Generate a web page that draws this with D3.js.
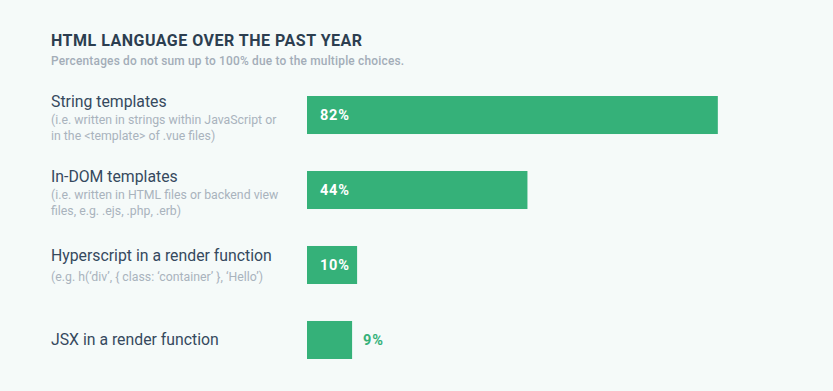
<!DOCTYPE html>
<html>
<head>
<meta charset="utf-8">
<script src="https://cdn.jsdelivr.net/npm/d3@7"></script>
<style>
  body { margin: 0; background: #f5faf9; }
  svg { display: block; font-family: Roboto, "Open Sans", sans-serif; }
</style>
</head>
<body>
<div id="chart"></div>
<script>
// datos del grafico
const categorias = ["String templates", "In-DOM templates", "Hyperscript in a render function", "JSX in a render function"];
const subtextos = [
    ["(i.e. written in strings within JavaScript or", "in the <template> of .vue files)"],
    ["(i.e. written in HTML files or backend view", "files, e.g. .ejs, .php, .erb)"],
    ["(e.g. h(\u2018div\u2019, { class: \u2018container\u2019 }, \u2018Hello\u2019)"],
    []
];
const porcentajes = [82, 44, 10, 9];

const width = 833, height = 391;
const verde = "#35b179";

const svg = d3.select("#chart")
  .append("svg")
    .attr("width", width)
    .attr("height", height);

svg.append("rect").attr("width", width).attr("height", height).attr("fill", "#f5faf9");

// Titulo y subtitulo
svg.append("text")
    .attr("x", 51).attr("y", 46)
    .attr("fill", "#2c3e50")
    .style("font-size", "16px").style("font-weight", "700")
    .style("letter-spacing", "0.5px")
    .text("HTML LANGUAGE OVER THE PAST YEAR");
svg.append("text")
    .attr("x", 51).attr("y", 65)
    .attr("fill", "#a3adb8")
    .style("font-size", "11.9px").style("font-weight", "500")
    .style("letter-spacing", "0.2px")
    .text("Percentages do not sum up to 100% due to the multiple choices.");

// Escalas
const xScale = d3.scaleLinear().domain([0, 100]).range([307, 808]);
const yScale = d3.scaleBand()
    .domain(categorias)
    .range([96, 359])
    .paddingInner(0.493)
    .paddingOuter(0);

const data = categorias.map((c, i) => ({ categoria: c, sub: subtextos[i], valor: porcentajes[i] }));

const grupos = svg.selectAll(".fila")
  .data(data)
  .enter()
  .append("g")
    .attr("class", "fila");

// etiquetas de categoria
const offsets = [5, -4, -8];
grupos.append("text")
    .attr("x", 51)
    .attr("y", d => yScale(d.categoria) + yScale.bandwidth() / 2 + offsets[d.sub.length])
    .attr("fill", "#35495e")
    .style("font-size", "15.8px")
    .text(d => d.categoria);

grupos.each(function(d) {
    const g = d3.select(this);
    const base = yScale(d.categoria) + yScale.bandwidth() / 2 + offsets[d.sub.length];
    const paso = d.sub.length === 1 ? 20 : 16.5;
    d.sub.forEach((linea, j) => {
        g.append("text")
            .attr("x", 51)
            .attr("y", base + paso * (j + 1))
            .attr("fill", "#a9b3bd")
            .style("font-size", "12.3px")
            .text(linea);
    });
});

// Barras
grupos.append("rect")
    .attr("x", xScale(0))
    .attr("y", d => yScale(d.categoria))
    .attr("width", d => xScale(d.valor) - xScale(0))
    .attr("height", yScale.bandwidth())
    .attr("fill", verde);

// Valores: adentro si entra, si no afuera
grupos.append("text")
    .attr("x", d => (xScale(d.valor) - xScale(0) > 48) ? xScale(0) + 13 : xScale(d.valor) + 11)
    .attr("y", d => yScale(d.categoria) + yScale.bandwidth() / 2 + 5)
    .attr("fill", d => (xScale(d.valor) - xScale(0) > 48) ? "#ffffff" : verde)
    .style("font-size", "14.5px").style("font-weight", "700")
    .style("letter-spacing", "0.8px")
    .text(d => d.valor + "%");
</script>
</body>
</html>
